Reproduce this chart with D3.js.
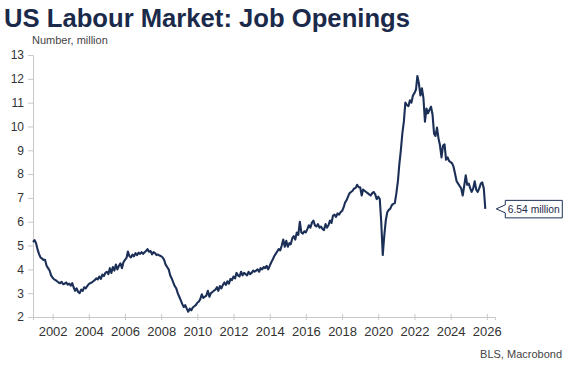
<!DOCTYPE html>
<html>
<head>
<meta charset="utf-8">
<script src="https://cdn.jsdelivr.net/npm/d3@7"></script>
<style>
  html, body { margin: 0; padding: 0; background: #fff; }
  svg { display: block; font-family: "Liberation Sans", Arial, sans-serif; }
</style>
</head>
<body>
<svg id="chart" width="575" height="367"></svg>
<script>
// ---- Data (monthly, Dec 2000 – Dec 2025, millions) ----
const title = "US Labour Market: Job Openings";
const subtitle = "Number, million";
const source = "BLS, Macrobond";
const firstMonth = [2000, 11]; // Dec 2000 (year, zero-based month)
const openings = [
  5.15,
  // 2001
  5.23, 5.10, 4.85, 4.65, 4.50, 4.45, 4.40, 4.40, 4.15, 4.05, 3.95, 3.75,
  // 2002
  3.65, 3.58, 3.55, 3.50, 3.45, 3.42, 3.48, 3.38, 3.40, 3.45, 3.36, 3.40,
  // 2003
  3.32, 3.42, 3.25, 3.10, 3.20, 3.05, 3.00, 3.15, 3.10, 3.25, 3.20, 3.30,
  // 2004
  3.38, 3.42, 3.45, 3.50, 3.55, 3.62, 3.58, 3.70, 3.60, 3.78, 3.72, 3.85,
  // 2005
  3.90, 3.80, 4.05, 3.85, 4.10, 3.95, 4.20, 4.00, 4.15, 4.25, 4.05, 4.30,
  // 2006
  4.40, 4.48, 4.75, 4.55, 4.50, 4.62, 4.55, 4.68, 4.60, 4.70, 4.65, 4.72,
  // 2007
  4.65, 4.72, 4.77, 4.85, 4.74, 4.77, 4.63, 4.72, 4.68, 4.60, 4.62, 4.58,
  // 2008
  4.55, 4.50, 4.40, 4.20, 4.10, 4.00, 3.75, 3.62, 3.45, 3.30, 3.20, 3.00,
  // 2009
  2.85, 2.70, 2.55, 2.42, 2.50, 2.35, 2.22, 2.35, 2.28, 2.40, 2.45, 2.50,
  // 2010
  2.60, 2.65, 2.75, 2.95, 2.80, 2.85, 2.90, 3.10, 2.85, 3.00, 3.05, 3.10,
  // 2011
  3.15, 3.25, 3.10, 3.30, 3.20, 3.35, 3.45, 3.35, 3.50, 3.40, 3.60, 3.55,
  // 2012
  3.70, 3.62, 3.85, 3.75, 3.70, 3.90, 3.75, 3.85, 3.80, 3.75, 3.90, 3.80,
  // 2013
  3.85, 3.95, 3.90, 3.95, 4.00, 3.90, 4.05, 4.00, 4.10, 4.05, 4.15, 4.00,
  // 2014
  4.15, 4.30, 4.40, 4.55, 4.65, 4.75, 4.85, 4.80, 5.00, 5.25, 4.95, 5.20,
  // 2015
  4.95, 5.10, 5.05, 5.30, 5.40, 5.25, 5.55, 5.45, 6.00, 5.55, 5.50, 5.60,
  // 2016
  5.55, 5.70, 5.85, 5.75, 5.95, 6.05, 5.85, 5.80, 5.90, 5.75, 5.80, 5.70,
  // 2017
  5.65, 5.90, 5.75, 5.85, 6.05, 5.95, 6.25, 6.30, 6.20, 6.35, 6.30, 6.40,
  // 2018
  6.45, 6.60, 6.80, 6.90, 7.05, 7.20, 7.25, 7.30, 7.40, 7.42, 7.55, 7.45,
  // 2019
  7.45, 7.10, 7.35, 7.30, 7.25, 7.20, 7.15, 7.10, 7.20, 7.25, 7.15, 6.95,
  // 2020
  7.05, 6.95, 6.00, 4.60, 5.40, 6.05, 6.40, 6.50, 6.55, 6.70, 6.75, 6.78,
  // 2021
  7.20, 7.70, 8.40, 9.00, 9.70, 10.20, 11.00, 10.90, 10.85, 11.10, 11.00, 11.30,
  // 2022
  11.40, 11.55, 12.12, 11.80, 11.30, 11.60, 11.20, 10.20, 10.75, 10.55, 10.70, 10.83,
  // 2023
  10.50, 9.70, 9.60, 9.95, 9.50, 9.20, 8.70, 9.20, 9.25, 8.60, 8.70, 8.55,
  // 2024
  8.50, 8.45, 8.30, 8.00, 7.70, 7.60, 7.50, 7.40, 7.10, 7.50, 7.95, 7.55,
  // 2025
  7.60, 7.40, 7.25, 7.40, 7.70, 7.35, 7.25, 7.40, 7.60, 7.65, 7.40, 6.54
];
const yTicks = [2, 3, 4, 5, 6, 7, 8, 9, 10, 11, 12, 13];
const xTickYears = [2002, 2004, 2006, 2008, 2010, 2012, 2014, 2016, 2018, 2020, 2022, 2024, 2026];

// ---- Build series ----
const series = openings.map((v, i) => ({
  date: new Date(firstMonth[0], firstMonth[1] + i, 1),
  value: v
}));

const navy = "#1b2f57";
const axisGrey = "#c8c8c8";
const textGrey = "#333333";

const svg = d3.select("#chart");

const x = d3.scaleTime()
  .domain([new Date(2000, 11, 1), new Date(2026, 5, 15)])
  .range([33, 495]);
const y = d3.scaleLinear()
  .domain([2, 13])
  .range([317, 55]);

// Title & subtitle
svg.append("text")
  .attr("x", 4).attr("y", 27)
  .attr("font-size", 25).attr("font-weight", "bold")
  .attr("fill", "#1b2a4a")
  .attr("textLength", 406).attr("lengthAdjust", "spacingAndGlyphs")
  .text(title);
svg.append("text")
  .attr("x", 32).attr("y", 44)
  .attr("font-size", 11).attr("fill", "#444")
  .text(subtitle);

// Y axis
const yAxis = svg.append("g")
  .attr("transform", "translate(33,0)")
  .call(d3.axisLeft(y).tickValues(yTicks).tickSize(5).tickPadding(4).tickFormat(d3.format("d")));
yAxis.select(".domain").attr("stroke", axisGrey);
yAxis.selectAll(".tick line").attr("stroke", axisGrey);
yAxis.selectAll(".tick text")
  .attr("font-size", 12).attr("fill", textGrey)
  .attr("font-family", "Liberation Sans, Arial, sans-serif");

// X axis
const xAxis = svg.append("g")
  .attr("transform", "translate(0,317)")
  .call(d3.axisBottom(x)
    .tickValues(xTickYears.map(yr => new Date(yr, 0, 1)))
    .tickSizeOuter(0).tickSize(3).tickPadding(7)
    .tickFormat(d3.timeFormat("%Y")));
xAxis.select(".domain").attr("stroke", axisGrey);
xAxis.selectAll(".tick line").attr("stroke", axisGrey).attr("y1", -3).attr("y2", 3);
xAxis.selectAll(".tick text")
  .attr("font-size", 13).attr("fill", textGrey)
  .attr("font-family", "Liberation Sans, Arial, sans-serif");

// Line
const line = d3.line()
  .x(d => x(d.date))
  .y(d => y(d.value));
svg.append("path")
  .datum(series)
  .attr("fill", "none")
  .attr("stroke", navy)
  .attr("stroke-width", 2.1)
  .attr("stroke-linejoin", "round")
  .attr("d", line);

// End-value callout
const last = series[series.length - 1];
const tipX = x(last.date) + 11;
const tipY = y(last.value);
const bx0 = tipX + 9, bx1 = bx0 + 57, by0 = tipY - 8.5, by1 = tipY + 9;
svg.append("path")
  .attr("d", `M${tipX},${tipY} L${bx0},${tipY - 4} L${bx0},${by0} L${bx1},${by0} L${bx1},${by1} L${bx0},${by1} L${bx0},${tipY + 4} Z`)
  .attr("fill", "#fff")
  .attr("stroke", navy)
  .attr("stroke-width", 1);
svg.append("text")
  .attr("x", bx0 + 2.5).attr("y", tipY + 4)
  .attr("font-size", 11).attr("fill", "#1b2a4a")
  .attr("textLength", 52).attr("lengthAdjust", "spacingAndGlyphs")
  .text(d3.format(".2f")(last.value) + " million");

// Source
svg.append("text")
  .attr("x", 562).attr("y", 358)
  .attr("text-anchor", "end")
  .attr("font-size", 11).attr("fill", "#444")
  .text(source);
</script>
</body>
</html>
